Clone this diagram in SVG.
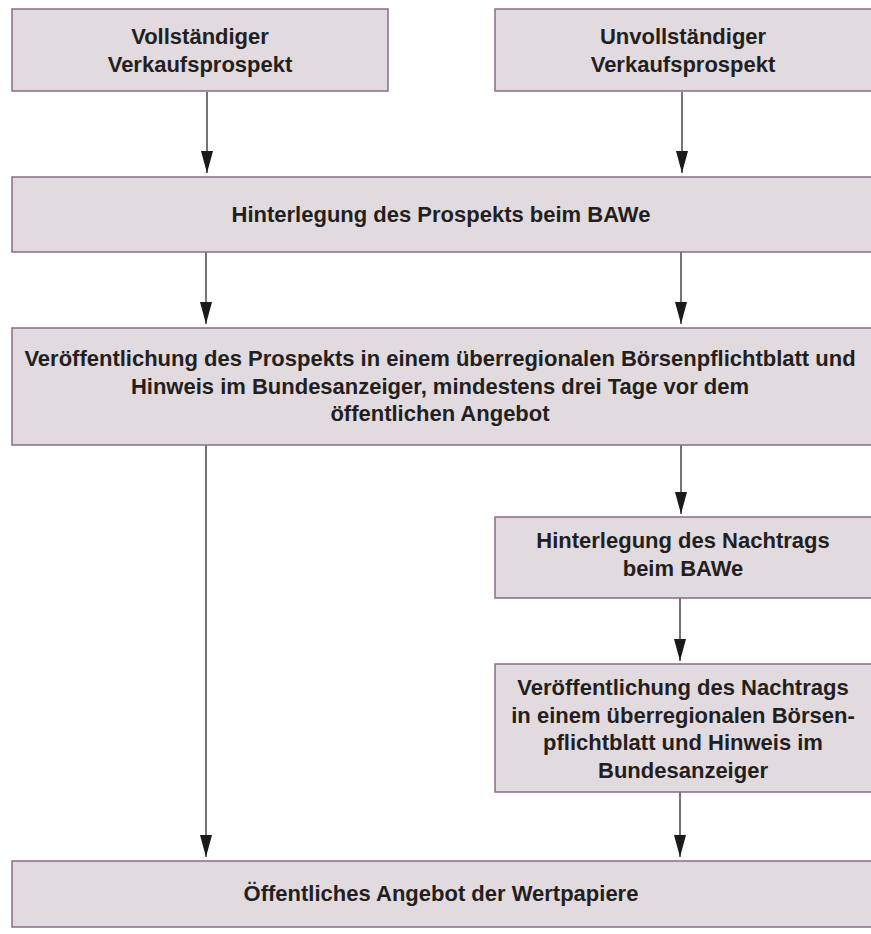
<svg xmlns="http://www.w3.org/2000/svg" width="871" height="934" viewBox="0 0 871 934">
<style>
.box{fill:#e1dadf;stroke:#8a6c85;stroke-width:1.5}
.t{font-family:"Liberation Sans",Arial,sans-serif;font-weight:bold;font-size:22px;fill:#231f20;text-anchor:middle}
.c{stroke:#2a2a2a;stroke-width:1.3;fill:none}
</style>
<defs>
<marker id="ah" markerUnits="userSpaceOnUse" markerWidth="24" markerHeight="14" refX="22" refY="7" orient="auto" viewBox="0 0 24 14">
<path d="M0,1 L22,7 L0,13 Z" fill="#1a1a1a"/>
</marker>
</defs>
<rect width="871" height="934" fill="#ffffff"/>
<g id="connectors">
<path class="c" d="M207,92 V173" marker-end="url(#ah)"/>
<path class="c" d="M682,92 V173" marker-end="url(#ah)"/>
<path class="c" d="M206,252 V324" marker-end="url(#ah)"/>
<path class="c" d="M681,252 V324" marker-end="url(#ah)"/>
<path class="c" d="M681,445 V514" marker-end="url(#ah)"/>
<path class="c" d="M680,598 V661" marker-end="url(#ah)"/>
<path class="c" d="M680,792 V857" marker-end="url(#ah)"/>
<path class="c" d="M206,445 V857" marker-end="url(#ah)"/>
</g>
<g id="n1">
<rect class="box" x="12" y="9" width="376" height="82"/>
<text class="t" x="200" y="44">Vollständiger</text>
<text class="t" x="200" y="72">Verkaufsprospekt</text>
</g>
<g id="n2">
<rect class="box" x="495" y="9" width="380" height="82"/>
<text class="t" x="683" y="44">Unvollständiger</text>
<text class="t" x="683" y="72">Verkaufsprospekt</text>
</g>
<g id="n3">
<rect class="box" x="12" y="177" width="863" height="75"/>
<text class="t" x="441" y="222">Hinterlegung des Prospekts beim BAWe</text>
</g>
<g id="n4">
<rect class="box" x="12" y="328" width="863" height="117"/>
<text class="t" x="440" y="366">Veröffentlichung des Prospekts in einem überregionalen Börsenpflichtblatt und</text>
<text class="t" x="440" y="394">Hinweis im Bundesanzeiger, mindestens drei Tage vor dem</text>
<text class="t" x="440" y="421">öffentlichen Angebot</text>
</g>
<g id="n5">
<rect class="box" x="495" y="517" width="380" height="81"/>
<text class="t" x="683" y="548">Hinterlegung des Nachtrags</text>
<text class="t" x="683" y="576">beim BAWe</text>
</g>
<g id="n6">
<rect class="box" x="495" y="664" width="380" height="128"/>
<text class="t" x="683" y="695">Veröffentlichung des Nachtrags</text>
<text class="t" x="683" y="723">in einem überregionalen Börsen-</text>
<text class="t" x="683" y="750">pflichtblatt und Hinweis im</text>
<text class="t" x="683" y="778">Bundesanzeiger</text>
</g>
<g id="n7">
<rect class="box" x="12" y="861" width="863" height="66"/>
<text class="t" x="441" y="901">Öffentliches Angebot der Wertpapiere</text>
</g>
</svg>
